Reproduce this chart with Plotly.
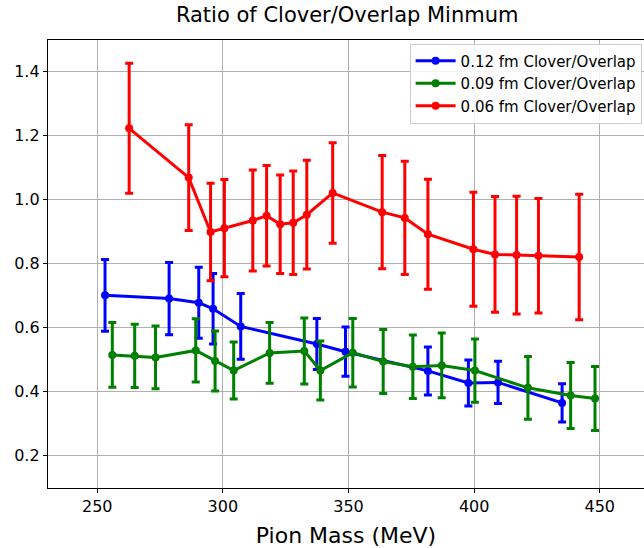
import plotly.graph_objects as go

# 0.12 fm Clover/Overlap
x_012 = [253.1, 278.6, 290.4, 296.1, 307.1, 337.4, 348.8, 381.6, 397.7, 409.5, 435.0]
y_012 = [0.699, 0.689, 0.676, 0.657, 0.602, 0.547, 0.523, 0.463, 0.425, 0.427, 0.363]
e_012 = [0.112, 0.113, 0.111, 0.110, 0.103, 0.080, 0.077, 0.075, 0.072, 0.066, 0.060]

# 0.09 fm Clover/Overlap
x_009 = [256.0, 264.9, 273.2, 289.2, 296.9, 304.3, 318.6, 332.4, 338.8, 351.7,
         363.8, 375.6, 387.1, 400.3, 421.4, 438.4, 448.1]
y_009 = [0.513, 0.510, 0.505, 0.527, 0.494, 0.464, 0.519, 0.525, 0.464, 0.520,
         0.492, 0.476, 0.480, 0.464, 0.410, 0.386, 0.377]
e_009 = [0.101, 0.099, 0.098, 0.099, 0.094, 0.089, 0.095, 0.103, 0.092, 0.107,
         0.100, 0.099, 0.101, 0.099, 0.098, 0.103, 0.100]

# 0.06 fm Clover/Overlap
x_006 = [262.7, 286.4, 295.1, 300.6, 311.9, 317.4, 322.8, 328.0, 333.4, 343.7,
         363.4, 372.4, 381.6, 399.7, 408.3, 416.9, 425.6, 441.8]
y_006 = [1.221, 1.067, 0.897, 0.909, 0.933, 0.948, 0.921, 0.926, 0.951, 1.019,
         0.959, 0.941, 0.890, 0.843, 0.827, 0.825, 0.823, 0.819]
e_006 = [0.203, 0.165, 0.152, 0.152, 0.158, 0.157, 0.154, 0.162, 0.170, 0.157,
         0.177, 0.177, 0.172, 0.178, 0.181, 0.184, 0.179, 0.196]

series = [
    ("0.12 fm Clover/Overlap", x_012, y_012, e_012, "#0000ff"),
    ("0.09 fm Clover/Overlap", x_009, y_009, e_009, "#008000"),
    ("0.06 fm Clover/Overlap", x_006, y_006, e_006, "#ff0000"),
]

x_ticks = [250, 300, 350, 400, 450]
y_ticks = [0.2, 0.4, 0.6, 0.8, 1.0, 1.2, 1.4]

fig = go.Figure()
for name, xs, ys, es, col in series:
    fig.add_trace(go.Scatter(
        x=xs, y=ys, name=name, mode="lines+markers",
        line=dict(color=col, width=3),
        marker=dict(color=col, size=8, symbol="circle"),
        error_y=dict(type="data", array=es, visible=True, color=col,
                     thickness=3, width=4),
    ))

font_family = "DejaVu Sans"
fig.update_layout(
    width=644, height=548,
    margin=dict(l=48, r=0, t=40, b=60, autoexpand=False),
    paper_bgcolor="white", plot_bgcolor="white",
    font=dict(family=font_family, color="black", size=15),
    title=dict(text="Ratio of Clover/Overlap Minmum", x=0.502, xanchor="center",
               xref="paper", yref="container",
               y=0.986, yanchor="top", font=dict(size=21, family=font_family)),
    showlegend=True,
    legend=dict(x=0.996, y=0.992, xanchor="right", yanchor="top",
                bgcolor="rgba(255,255,255,0.85)", bordercolor="#cccccc", borderwidth=1,
                font=dict(size=15, family=font_family), tracegroupgap=0,
                itemwidth=40),
)
fig.update_xaxes(
    range=[230.4, 467.6], tickvals=x_ticks, ticktext=[str(v) for v in x_ticks],
    showgrid=True, gridcolor="#b0b0b0", gridwidth=1, automargin=False,
    showline=True, linecolor="black", linewidth=1.3, mirror=True,
    ticks="outside", ticklen=4, tickcolor="black", zeroline=False,
    title=dict(text="Pion Mass (MeV)", font=dict(size=22, family=font_family), standoff=12),
    tickfont=dict(size=16),
)
fig.update_yaxes(
    range=[0.097, 1.497], tickvals=y_ticks, ticktext=[f"{v:.1f}" for v in y_ticks],
    showgrid=True, gridcolor="#b0b0b0", gridwidth=1, automargin=False,
    showline=True, linecolor="black", linewidth=1.3, mirror=False,
    ticks="outside", ticklen=4, tickcolor="black", zeroline=False,
    tickfont=dict(size=16),
)

fig.write_html("out.html", config={"displayModeBar": False},
               post_script="document.body.style.margin='0px';document.body.style.padding='0px';")
